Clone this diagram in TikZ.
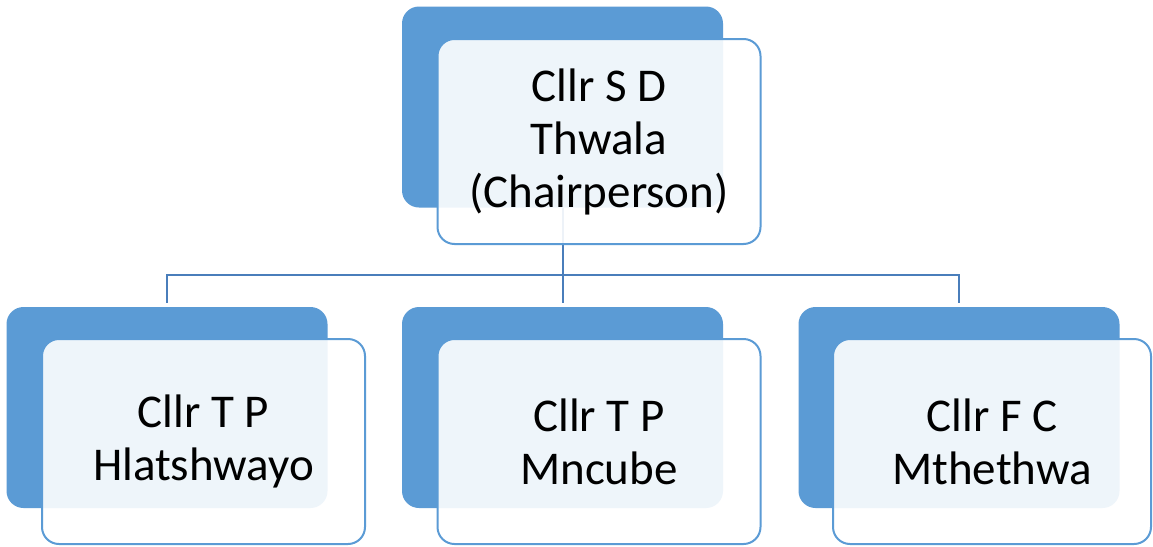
\documentclass[tikz,border=0pt]{standalone}
\usepackage{fontspec}
\setmainfont{Carlito}
\definecolor{accent}{HTML}{5B9BD5}
\definecolor{linkblue}{HTML}{4A7EBB}
\begin{document}
\begin{tikzpicture}[x=1pt,y=-1pt,
  backbox/.style={rectangle, rounded corners=17pt, fill=accent, draw=none,
    minimum width=321pt, minimum height=201pt, inner sep=0pt},
  frontbox/.style={rectangle, rounded corners=17pt, draw=accent, line width=2pt,
    fill=white, fill opacity=0.9, text opacity=1, text=black,
    minimum width=323pt, minimum height=205pt, inner sep=0pt, align=center,
    font=\fontsize{47}{53}\selectfont},
  conn/.style={draw=linkblue, line width=2pt}]
\useasboundingbox (0,0) rectangle (1153,546);
\fill[white] (0,0) rectangle (1153,546);
\coordinate (bus) at (0,275);

% back tiles
\node[backbox] (b0) at (562.5,107) {};
\node[backbox] (b1) at (167,407.5) {};
\node[backbox] (b2) at (562.5,407.5) {};
\node[backbox] (b3) at (959,407.5) {};

% connectors from the chair to each member
\draw[conn] (b0.south) -- (b0.south |- bus);
\draw[conn, shorten >=4pt] (b0.south |- bus) -| (b1.north);
\draw[conn, shorten >=4pt] (b0.south |- bus) -- (b2.north);
\draw[conn, shorten >=4pt] (b0.south |- bus) -| (b3.north);

% front cards with names
\node[frontbox] (f0) at (599,141.5) {Cllr S D\\Thwala\\(Chairperson)};
\node[frontbox] (f1) at (203.5,441.5) {Cllr T P\\Hlatshwayo};
\node[frontbox] (f2) at (599,441.5) {Cllr T P\\Mncube};
\node[frontbox, minimum width=318pt] (f3) at (992,441.5) {Cllr F C\\Mthethwa};
\end{tikzpicture}
\end{document}
